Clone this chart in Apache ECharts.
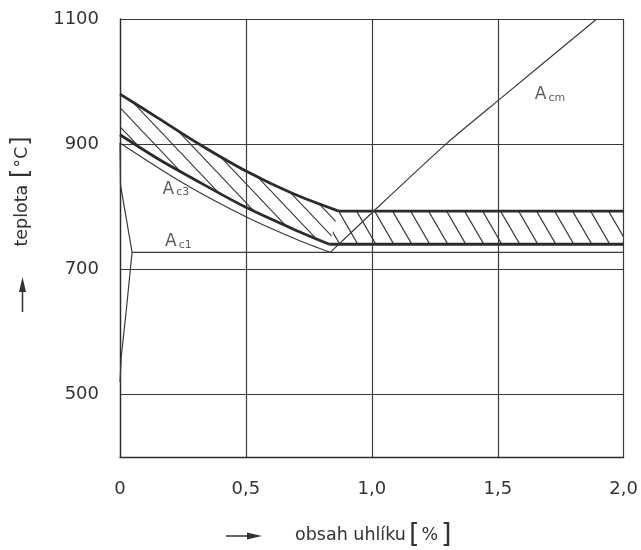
<!DOCTYPE html>
<html>
<head>
<meta charset="utf-8">
<title>Diagram Fe–C – kalicí teploty</title>
<script src="https://cdn.jsdelivr.net/npm/echarts@6/dist/echarts.min.js"></script>
<style>
  html, body { margin: 0; padding: 0; background: #fff; }
  #chart { width: 641px; height: 550px; }
</style>
</head>
<body>
<div id="chart"></div>
<script>
// Axis ticks
const xTicks = [0, 0.5, 1.0, 1.5, 2.0];
const xTickLabels = ['0', '0,5', '1,0', '1,5', '2,0'];
const yTicks = [500, 700, 900, 1100];
const yTickLabels = ['500', '700', '900', '1100'];

// Upper bound of the hardening range (thick line); last point closes the band
const upperC = [0, 0.15, 0.31, 0.5, 0.686, 0.868, 2.0];
const upperT = [980, 942, 901, 857, 821, 793, 793];
// Lower bound of the hardening range (thick line)
const lowerC = [0, 0.157, 0.276, 0.5, 0.712, 0.831, 2.0];
const lowerT = [915, 875, 848, 799, 760, 740, 740];

// A3 (Ac3) equilibrium line
const a3C = [0, 0.25, 0.5, 0.7, 0.835];
const a3T = [902, 838, 784, 748, 727];
// A1 (Ac1) eutectoid line
const ac1C = [0.048, 2.0];
const ac1T = [727, 727];
// Ferrite boundary and solvus near 0 % C
const ferC = [0, 0.002, 0.048, 0.025, 0.005, 0];
const ferT = [902, 835, 727, 635, 560, 520];
// Acm line
const acmC = [0.835, 1.01, 1.294, 1.502, 1.893];
const acmT = [727, 794, 900, 970, 1100];

// Curve labels
const labelC = [0.167, 0.177, 1.645];
const labelT = [828, 744, 979];
const labelSub = ['c3', 'c1', 'cm'];

const zip = (cs, ts) => cs.map((c, i) => [c, ts[i]]);

const INK = '#2b2b2b';
const THIN = '#3a3a3a';

// Diagonal hatch tile: lines falling to the right, `step` px apart horizontally
function hatch(step, rise, width, color) {
  const cv = document.createElement('canvas');
  cv.width = step; cv.height = rise;
  const ctx = cv.getContext('2d');
  ctx.strokeStyle = color;
  ctx.lineWidth = width;
  ctx.beginPath();
  ctx.moveTo(-step, -rise); ctx.lineTo(2 * step, 2 * rise);
  ctx.moveTo(0, -rise); ctx.lineTo(2 * step, rise);
  ctx.moveTo(-step, 0); ctx.lineTo(step, 2 * rise);
  ctx.stroke();
  return { image: cv, repeat: 'repeat' };
}
const hatchSlope = hatch(18, 19, 1.2, THIN);
const hatchBand = hatch(18, 31, 1.2, THIN);

function lineSeries(name, data, width, color, smooth) {
  return {
    name, type: 'line', data, symbol: 'none', silent: true, animation: false,
    smooth: smooth || false,
    lineStyle: { width, color }, z: 5
  };
}

const n = upperC.length;
const upperPts = zip(upperC, upperT);
const lowerPts = zip(lowerC, lowerT);

const chart = echarts.init(document.getElementById('chart'), null, { renderer: 'canvas' });

chart.setOption({
  backgroundColor: '#fff',
  animation: false,
  grid: { left: 120, right: 16, top: 19, bottom: 93 },
  xAxis: {
    type: 'value', min: 0, max: 2, interval: 0.5,
    axisLine: { show: true, onZero: false, lineStyle: { color: INK, width: 1.3 } },
    axisTick: { show: false },
    splitLine: { show: true, lineStyle: { color: THIN, width: 1.2 } },
    axisLabel: {
      margin: 23, color: '#333', fontFamily: 'DejaVu Sans', fontSize: 18,
      formatter: v => { const i = xTicks.indexOf(v); return i >= 0 ? xTickLabels[i] : ''; }
    }
  },
  yAxis: {
    type: 'value', min: 400, max: 1100, interval: 100,
    axisLine: { show: true, onZero: false, lineStyle: { color: INK, width: 1.3 } },
    axisTick: { show: false },
    splitLine: { show: true, lineStyle: { color: ['transparent', THIN], width: 1.2 } },
    axisLabel: {
      margin: 21, color: '#333', fontFamily: 'DejaVu Sans', fontSize: 18,
      formatter: v => { const i = yTicks.indexOf(v); return i >= 0 ? yTickLabels[i] : ''; }
    }
  },
  series: [
    {
      // hatched hardening range: sloped part and horizontal band
      type: 'custom', coordinateSystem: 'cartesian2d', silent: true, clip: true, z: 2,
      data: [[0, 400], [1, 400]],
      renderItem: (params, api) => {
        let pts;
        if (params.dataIndex === 0) {
          pts = upperPts.slice(0, n - 1).concat(lowerPts.slice(0, n - 1).reverse());
        } else {
          pts = upperPts.slice(n - 2).concat(lowerPts.slice(n - 2).reverse());
        }
        return {
          type: 'polygon',
          shape: { points: pts.map(p => api.coord(p)) },
          style: { fill: params.dataIndex === 0 ? hatchSlope : hatchBand, stroke: null }
        };
      }
    },
    lineSeries('upper', upperPts.slice(0, n - 1), 2.8, INK, 0.3),
    lineSeries('upper band', upperPts.slice(n - 2), 2.8, INK),
    lineSeries('lower', lowerPts.slice(0, n - 1), 2.8, INK, 0.3),
    lineSeries('lower band', lowerPts.slice(n - 2), 2.8, INK),
    lineSeries('A3', zip(a3C, a3T), 1.2, THIN, 0.3),
    lineSeries('A1', zip(ac1C, ac1T), 1.2, THIN),
    lineSeries('ferrite', zip(ferC, ferT), 1.2, THIN),
    lineSeries('Acm', zip(acmC, acmT), 1.2, THIN, 0.2),
    {
      type: 'scatter', silent: true, z: 6,
      data: labelC.map((c, i) => ({ name: labelSub[i], value: [c, labelT[i]] })),
      symbolSize: 1, itemStyle: { color: 'transparent' },
      label: {
        show: true, position: 'right', distance: 0,
        formatter: p => '{a|A}{s|' + p.name + '}',
        rich: {
          a: { fontFamily: 'DejaVu Sans', fontSize: 17, color: '#333', lineHeight: 17, verticalAlign: 'top' },
          s: { fontFamily: 'DejaVu Sans', fontSize: 11, color: '#333', lineHeight: 11, verticalAlign: 'bottom', padding: [13, 0, 0, 2] }
        }
      }
    }
  ],
  graphic: [
    {
      type: 'text', x: 295, y: 535, silent: true,
      style: {
        text: '{t|obsah uhlíku}{b|[}{t|%}{b|]}',
        align: 'left', verticalAlign: 'middle',
        rich: {
          t: { fontFamily: 'DejaVu Sans', fontSize: 17.5, fill: '#333' },
          b: { fontFamily: 'DejaVu Sans ExtraLight, DejaVu Sans', fontSize: 27, fill: '#333', padding: [0, 2, 0, 3] }
        }
      }
    },
    {
      type: 'text', x: 22, y: 191, rotation: Math.PI / 2, silent: true,
      style: {
        text: '{t|teplota }{b|[}{t|°C}{b|]}',
        align: 'center', verticalAlign: 'middle',
        rich: {
          t: { fontFamily: 'DejaVu Sans', fontSize: 17.5, fill: '#333' },
          b: { fontFamily: 'DejaVu Sans ExtraLight, DejaVu Sans', fontSize: 24, fill: '#333', padding: [0, 1, 0, 1] }
        }
      }
    },
    {
      type: 'group', silent: true,
      children: [
        { type: 'line', shape: { x1: 226, y1: 536, x2: 252, y2: 536 }, style: { stroke: '#333', lineWidth: 1.5 } },
        { type: 'polygon', shape: { points: [[262, 536], [247, 532.5], [247, 539.5]] }, style: { fill: '#333' } },
        { type: 'line', shape: { x1: 22.5, y1: 312, x2: 22.5, y2: 288 }, style: { stroke: '#333', lineWidth: 1.5 } },
        { type: 'polygon', shape: { points: [[22.5, 277], [19, 292], [26, 292]] }, style: { fill: '#333' } }
      ]
    }
  ]
});
</script>
</body>
</html>
